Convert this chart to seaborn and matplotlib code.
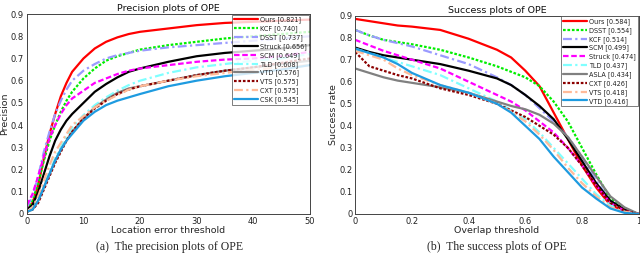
import numpy as np
import pandas as pd
import matplotlib
matplotlib.use("Agg")
import matplotlib.pyplot as plt
import seaborn as sns

# ---------------- Precision plot data ----------------
prec_x = [0, 1, 2, 3, 4, 5, 6, 7, 8, 10, 12, 14, 16, 18, 20, 25, 30, 35, 40, 45, 50]
prec_names = ["Ours", "KCF", "DSST", "Struck", "SCM", "TLD", "VTD", "VTS", "CXT", "CSK"]
prec_scores = ["0.821", "0.740", "0.737", "0.656", "0.649", "0.608", "0.576", "0.575", "0.575", "0.545"]
prec_ours = [0.02, 0.05, 0.13, 0.25, 0.36, 0.45, 0.53, 0.59, 0.64, 0.70, 0.745, 0.775, 0.795, 0.81, 0.82, 0.835, 0.85, 0.86, 0.865, 0.87, 0.875]
prec_kcf = [0.02, 0.06, 0.14, 0.24, 0.33, 0.40, 0.46, 0.51, 0.55, 0.61, 0.655, 0.69, 0.71, 0.725, 0.74, 0.76, 0.775, 0.79, 0.80, 0.81, 0.82]
prec_dsst = [0.03, 0.08, 0.17, 0.28, 0.37, 0.45, 0.51, 0.56, 0.60, 0.645, 0.675, 0.70, 0.715, 0.725, 0.735, 0.75, 0.76, 0.77, 0.78, 0.79, 0.80]
prec_struck = [0.02, 0.04, 0.10, 0.18, 0.26, 0.33, 0.38, 0.42, 0.45, 0.50, 0.55, 0.585, 0.615, 0.64, 0.655, 0.685, 0.71, 0.725, 0.735, 0.745, 0.76]
prec_scm = [0.04, 0.09, 0.17, 0.26, 0.34, 0.40, 0.45, 0.49, 0.52, 0.555, 0.59, 0.61, 0.63, 0.645, 0.655, 0.67, 0.685, 0.695, 0.70, 0.71, 0.73]
prec_tld = [0.01, 0.03, 0.07, 0.13, 0.19, 0.25, 0.30, 0.35, 0.39, 0.445, 0.49, 0.525, 0.555, 0.58, 0.60, 0.635, 0.66, 0.675, 0.69, 0.70, 0.72]
prec_vtd = [0.01, 0.02, 0.06, 0.12, 0.18, 0.24, 0.29, 0.33, 0.37, 0.43, 0.48, 0.515, 0.545, 0.565, 0.575, 0.60, 0.625, 0.645, 0.66, 0.675, 0.69]
prec_vts = [0.01, 0.02, 0.05, 0.11, 0.17, 0.23, 0.28, 0.33, 0.37, 0.43, 0.475, 0.51, 0.54, 0.56, 0.575, 0.60, 0.625, 0.645, 0.66, 0.68, 0.70]
prec_cxt = [0.01, 0.03, 0.08, 0.15, 0.22, 0.28, 0.32, 0.36, 0.40, 0.44, 0.48, 0.51, 0.535, 0.56, 0.575, 0.60, 0.62, 0.635, 0.65, 0.66, 0.67]
prec_csk = [0.01, 0.02, 0.06, 0.12, 0.18, 0.24, 0.29, 0.33, 0.36, 0.42, 0.46, 0.49, 0.51, 0.525, 0.54, 0.575, 0.60, 0.62, 0.635, 0.65, 0.67]
prec_series = [prec_ours, prec_kcf, prec_dsst, prec_struck, prec_scm, prec_tld, prec_vtd, prec_vts, prec_cxt, prec_csk]

# ---------------- Success plot data ----------------
succ_x = [0, 0.05, 0.1, 0.15, 0.2, 0.3, 0.4, 0.5, 0.55, 0.6, 0.65, 0.7, 0.75, 0.8, 0.85, 0.9, 0.95, 1.0]
succ_names = ["Ours", "DSST", "KCF", "SCM", "Struck", "TLD", "ASLA", "CXT", "VTS", "VTD"]
succ_scores = ["0.584", "0.554", "0.514", "0.499", "0.474", "0.437", "0.434", "0.426", "0.418", "0.416"]
succ_ours = [0.885, 0.875, 0.865, 0.855, 0.85, 0.835, 0.795, 0.745, 0.71, 0.65, 0.58, 0.46, 0.34, 0.22, 0.12, 0.04, 0.015, 0.0]
succ_dsst = [0.835, 0.81, 0.79, 0.78, 0.77, 0.745, 0.71, 0.67, 0.645, 0.62, 0.58, 0.51, 0.42, 0.30, 0.18, 0.07, 0.02, 0.0]
succ_kcf = [0.835, 0.81, 0.79, 0.775, 0.76, 0.72, 0.68, 0.62, 0.585, 0.54, 0.48, 0.42, 0.35, 0.26, 0.15, 0.06, 0.02, 0.0]
succ_scm = [0.755, 0.735, 0.72, 0.71, 0.70, 0.68, 0.65, 0.615, 0.585, 0.54, 0.49, 0.43, 0.34, 0.24, 0.14, 0.06, 0.02, 0.0]
succ_struck = [0.79, 0.765, 0.74, 0.72, 0.70, 0.66, 0.60, 0.54, 0.51, 0.47, 0.42, 0.37, 0.30, 0.22, 0.13, 0.05, 0.015, 0.0]
succ_tld = [0.75, 0.73, 0.71, 0.69, 0.67, 0.63, 0.57, 0.51, 0.47, 0.43, 0.37, 0.30, 0.23, 0.16, 0.09, 0.04, 0.01, 0.0]
succ_asla = [0.66, 0.64, 0.62, 0.605, 0.595, 0.575, 0.55, 0.51, 0.49, 0.475, 0.45, 0.41, 0.35, 0.26, 0.17, 0.08, 0.03, 0.0]
succ_cxt = [0.735, 0.67, 0.65, 0.63, 0.615, 0.57, 0.54, 0.50, 0.47, 0.44, 0.40, 0.36, 0.30, 0.22, 0.13, 0.05, 0.015, 0.0]
succ_vts = [0.74, 0.72, 0.70, 0.66, 0.63, 0.585, 0.55, 0.50, 0.465, 0.42, 0.36, 0.29, 0.21, 0.14, 0.08, 0.03, 0.01, 0.0]
succ_vtd = [0.75, 0.73, 0.71, 0.68, 0.64, 0.585, 0.55, 0.50, 0.46, 0.40, 0.34, 0.26, 0.19, 0.12, 0.07, 0.025, 0.005, 0.0]
succ_series = [succ_ours, succ_dsst, succ_kcf, succ_scm, succ_struck, succ_tld, succ_asla, succ_cxt, succ_vts, succ_vtd]

# ---------------- Styles by legend rank (same in both panels) ----------------
rank_colors = ["#ff0000", "#00ee00", "#9a9aff", "#000000", "#ff00ff",
               "#80ffff", "#808080", "#8b0000", "#ffbb99", "#1e9be0"]
rank_dashes = ["", (1.2, 0.8), (4, 1.5, 1, 1.5), "", (2.5, 1.2),
               (4, 1.5, 1, 1.5), "", (1.2, 0.8), (4, 1.5, 1, 1.5), ""]

sns.set_theme(style="white")
plt.rcParams["font.family"] = ["DejaVu Sans"]

fig = plt.figure(figsize=(6.4, 2.6), dpi=100)
ax1 = fig.add_axes([0.042, 0.177, 0.442, 0.769])
ax2 = fig.add_axes([0.555, 0.177, 0.443, 0.763])


def draw(ax, xs, names, scores, series):
    rows = []
    for n, s, ys in zip(names, scores, series):
        lab = f"{n} [{s}]"
        for x, y in zip(xs, ys):
            rows.append((x, y, lab))
    df = pd.DataFrame(rows, columns=["x", "y", "label"])
    labels = [f"{n} [{s}]" for n, s in zip(names, scores)]
    pal = dict(zip(labels, rank_colors))
    dsh = dict(zip(labels, rank_dashes))
    sns.lineplot(data=df, x="x", y="y", hue="label", style="label",
                 hue_order=labels, style_order=labels, palette=pal, dashes=dsh,
                 linewidth=1.6, ax=ax)
    leg = ax.legend(loc="upper right", fontsize=4.7, frameon=True, fancybox=False,
                    handlelength=3.6, labelspacing=0.32, borderpad=0.3,
                    handletextpad=0.4, borderaxespad=0.1)
    leg.get_frame().set_edgecolor("#444444")
    leg.get_frame().set_linewidth(0.6)
    for t in leg.get_texts():
        t.set_color("#222222")


draw(ax1, prec_x, prec_names, prec_scores, prec_series)
draw(ax2, succ_x, succ_names, succ_scores, succ_series)

for ax in (ax1, ax2):
    for sp in ax.spines.values():
        sp.set_color("#444444")
        sp.set_linewidth(0.7)
    ax.tick_params(direction="in", length=2.5, width=0.6, labelsize=6, pad=2,
                   colors="#222222")
    ax.set_ylim(0, 0.9)
    ax.set_yticks(np.arange(0, 0.91, 0.1))
    ax.set_yticklabels(["0"] + [f"{v:.1f}" for v in np.arange(0.1, 0.91, 0.1)])

ax1.set_xlim(0, 50)
ax1.set_xticks([0, 10, 20, 30, 40, 50])
ax2.set_xlim(0, 1)
ax2.set_xticks([0, 0.2, 0.4, 0.6, 0.8, 1.0])
ax2.set_xticklabels(["0", "0.2", "0.4", "0.6", "0.8", "1"])

ax1.set_title("Precision plots of OPE", fontsize=6.8, pad=2, color="#111111")
ax2.set_title("Success plots of OPE", fontsize=6.8, pad=2, color="#111111")
ax1.set_xlabel("Location error threshold", fontsize=6.8, labelpad=0)
ax1.set_ylabel("Precision", fontsize=6.8, labelpad=1)
ax2.set_xlabel("Overlap threshold", fontsize=6.8, labelpad=0)
ax2.set_ylabel("Success rate", fontsize=6.8, labelpad=1)

fig.text(0.265, 0.04, "(a)  The precision plots of OPE", ha="center",
         fontsize=8.5, family="Liberation Serif")
fig.text(0.777, 0.04, "(b)  The success plots of OPE", ha="center",
         fontsize=8.5, family="Liberation Serif")

fig.savefig("out.png", dpi=100)
